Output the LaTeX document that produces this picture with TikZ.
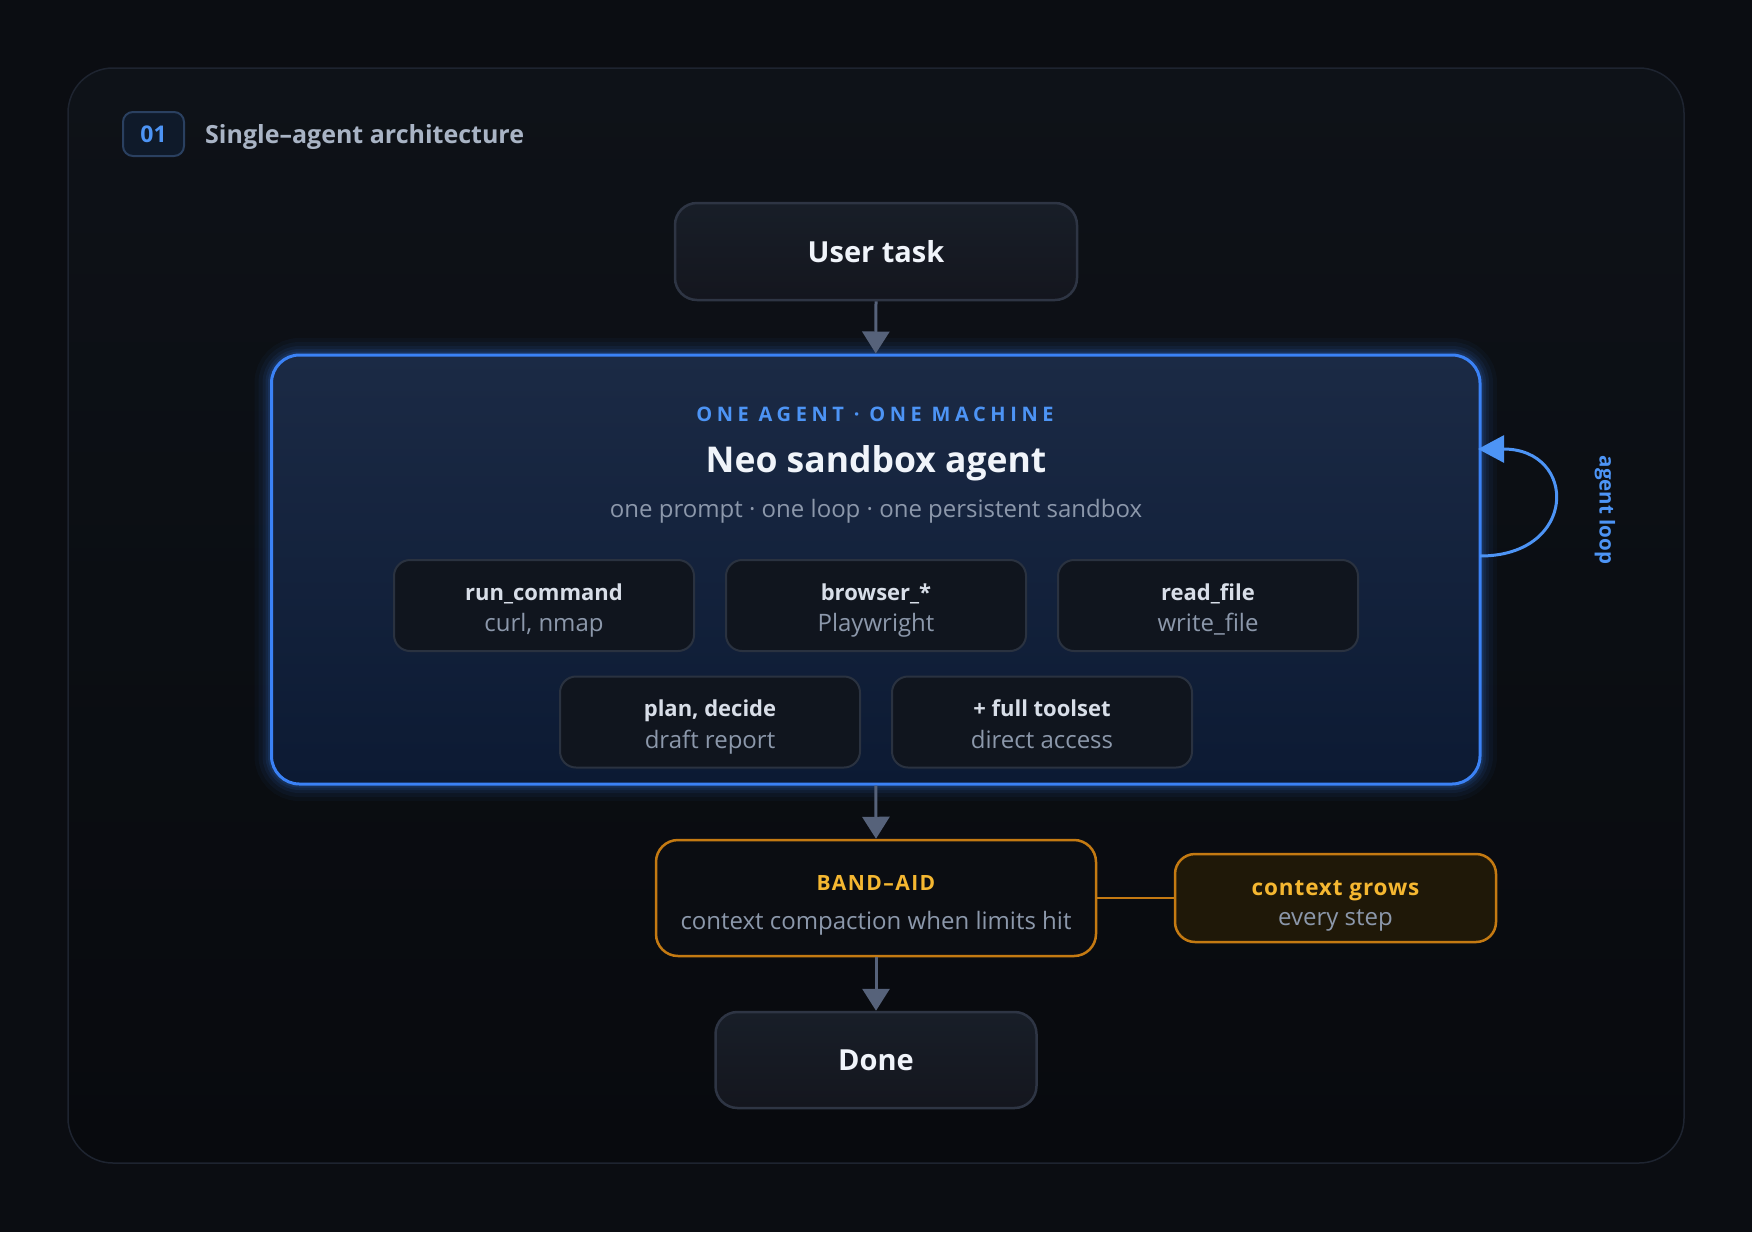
\documentclass[tikz,border=0pt]{standalone}
\usepackage{fontspec}
\setmainfont{Open Sans}
\newfontfamily\widefont[LetterSpace=23]{Open Sans}
\newfontfamily\semiwide[LetterSpace=7]{Open Sans}
\newfontfamily\lightwide[LetterSpace=4]{Open Sans}
\usetikzlibrary{arrows.meta,calc}
\definecolor{bg}{HTML}{0B0D12}
\definecolor{panelt}{HTML}{0E1218}
\definecolor{panelb}{HTML}{080A0E}
\definecolor{panelline}{HTML}{1E2430}
\definecolor{arrowc}{HTML}{56627A}
\definecolor{termb}{HTML}{2E3544}
\definecolor{termt}{HTML}{181E28}
\definecolor{termbot}{HTML}{14161E}
\definecolor{mainb}{HTML}{3B82F6}
\definecolor{maint}{HTML}{1B2A45}
\definecolor{mainbot}{HTML}{0C1A33}
\definecolor{toolf}{HTML}{10151E}
\definecolor{toolb}{HTML}{2A3240}
\definecolor{tooltxt}{HTML}{D8DEE8}
\definecolor{subc}{HTML}{8C98AB}
\definecolor{bluetxt}{HTML}{4D94F5}
\definecolor{titlec}{HTML}{A9B4C5}
\definecolor{badgef}{HTML}{0F1A2A}
\definecolor{badgeb}{HTML}{2A4060}
\definecolor{orangeb}{HTML}{C47A12}
\definecolor{orangetxt}{HTML}{F5B731}
\definecolor{ctxf}{HTML}{1F1808}
\definecolor{whitec}{HTML}{F0F4FA}
\newcommand{\tooltext}[2]{\textbf{\rule{0pt}{30pt}#1}\\\textcolor{subc}{\fontsize{24}{31.5}\selectfont#2\strut}}
\tikzset{
  flow/.style={draw=arrowc, line width=3pt, -{Triangle[length=22pt,width=27pt]}},
  term/.style={draw=termb, line width=2.5pt, rounded corners=22pt, top color=termt, bottom color=termbot,
    text=whitec, inner sep=0pt, font=\fontsize{29}{36}\selectfont\bfseries},
  tool/.style={draw=toolb, line width=2pt, rounded corners=16pt, fill=toolf, inner sep=0pt,
    minimum width=300pt, minimum height=91pt, align=center, text=tooltxt,
    font=\fontsize{22}{31.5}\selectfont},
  warnbox/.style={draw=orangeb, line width=2.5pt, rounded corners=22pt, inner sep=0pt, align=center},
}
\begin{document}
\begin{tikzpicture}[x=1pt,y=-1pt]
\fill[bg] (0,0) rectangle (1752,1232);
\useasboundingbox (0,0) rectangle (1752,1232);
% panel
\draw[panelline, line width=1.5pt, rounded corners=45pt, top color=panelt, bottom color=panelb] (68,68) rectangle (1684,1163);
% header
\node[draw=badgeb, fill=badgef, line width=2pt, rounded corners=10pt, minimum width=61pt, minimum height=44pt, inner sep=0pt,
  text=bluetxt, font=\fontsize{23}{28}\selectfont\bfseries] (badge) at (153.5,134) {01};
\node[anchor=west, text=titlec, inner sep=0pt, font=\fontsize{25}{30}\selectfont\bfseries] (title) at (205,137) {Single–agent architecture};
% user task
\node[term, minimum width=402pt, minimum height=97pt] (ut) at (876,251.5) {User task};
% main glow
\foreach \w/\o in {34/0.04, 26/0.05, 18/0.07, 12/0.09, 7/0.12} {
  \draw[mainb, line width=\w pt, opacity=\o, rounded corners=28pt] (271.5,355) rectangle (1480,784);
}
\node[draw=mainb, line width=3pt, rounded corners=28pt, top color=maint, bottom color=mainbot, inner sep=0pt,
  minimum width=1208.5pt, minimum height=429pt] (main) at (875.75,569.5) {};
\node[text=bluetxt, font=\fontsize{20}{24}\selectfont\widefont\bfseries] (kicker) at (875,414) {ONE AGENT · ONE MACHINE};
\node[text=whitec, font=\fontsize{35.5}{40}\selectfont\bfseries] (agentname) at (876,463) {Neo sandbox agent};
\node[text=subc, font=\fontsize{24}{28}\selectfont] (agentsub) at (876,511) {one prompt · one loop · one persistent sandbox};
% tools
\node[tool] (t1) at (544,605.5) {\tooltext{run\_command}{curl, nmap}};
\node[tool] (t2) at (876,605.5) {\tooltext{browser\_*}{Playwright}};
\node[tool] (t3) at (1208,605.5) {\tooltext{read\_file}{write\_file}};
\node[tool] (t4) at (710,722) {\tooltext{plan, decide}{draft report}};
\node[tool] (t5) at (1042,722) {\tooltext{+ full toolset}{direct access}};
% agent loop
\coordinate (loopA) at (1480,556);
\coordinate (loopB) at (1478,449);
\draw[bluetxt, line width=3pt, -{Triangle[length=26pt,width=27pt]}] (loopA) .. controls (1578,556) and (1578,449) .. (loopB);
\node[rotate=-90, text=bluetxt, font=\fontsize{20.5}{24}\selectfont\bfseries] (looplbl) at (1605,510) {agent loop};
% band-aid
\node[warnbox, fill=bg, minimum width=440pt, minimum height=116pt, text=subc, font=\fontsize{24}{33}\selectfont] (band) at (876,898)
  {{\rule{0pt}{30pt}\fontsize{21}{24}\selectfont\semiwide\bfseries\color{orangetxt}BAND–AID}\\[6pt]context compaction when limits hit};
\node[warnbox, fill=ctxf, rounded corners=20pt, minimum width=321pt, minimum height=88pt, text=subc, font=\fontsize{24}{30}\selectfont] (ctx) at (1335.5,898)
  {{\rule{0pt}{34pt}\fontsize{22.5}{30}\selectfont\lightwide\bfseries\color{orangetxt}context grows}\\every step\strut};
\draw[orangeb, line width=2.5pt] (band.east) -- (ctx.west);
% done
\node[term, minimum width=321pt, minimum height=96pt] (done) at (876,1060) {Done};
% arrows
\draw[flow] (ut.south) -- (main.north);
\draw[flow] (main.south) -- (band.north);
\draw[flow] (band.south) -- (done.north);
\end{tikzpicture}
\end{document}
